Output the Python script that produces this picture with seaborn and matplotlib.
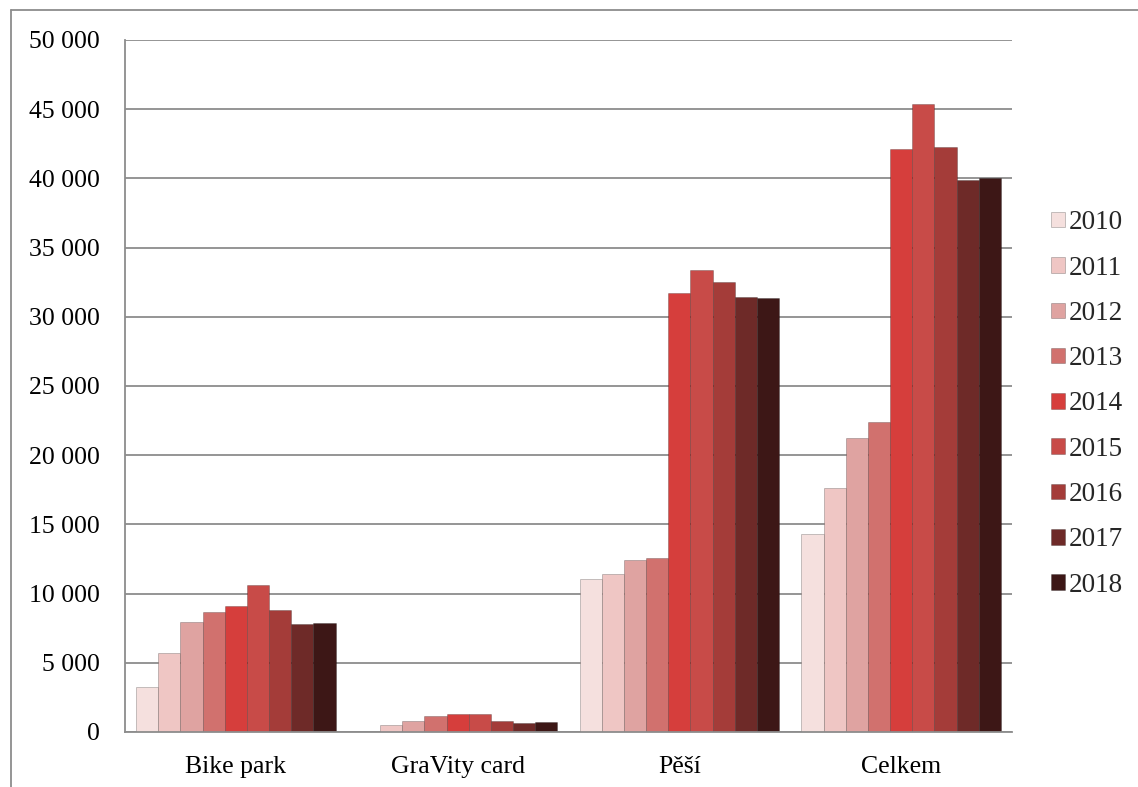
import numpy as np
import pandas as pd
import matplotlib
matplotlib.use("Agg")
import matplotlib.pyplot as plt
import seaborn as sns
from matplotlib.lines import Line2D
from matplotlib.ticker import FuncFormatter

categories = ["Bike park", "GraVity card", "Pěší", "Celkem"]
years = ["2010", "2011", "2012", "2013", "2014", "2015", "2016", "2017", "2018"]
bike_park = [3230, 5730, 7925, 8650, 9130, 10600, 8815, 7800, 7900]
gravity_card = [0, 480, 820, 1130, 1280, 1270, 810, 650, 750]
pesi = [11090, 11450, 12400, 12540, 31730, 33400, 32500, 31420, 31350]
celkem = [14340, 17645, 21260, 22385, 42140, 45340, 42250, 39900, 40045]
colors = ["#f5e0de", "#efc6c4", "#dfa3a1", "#d1716e", "#d63e3c",
          "#c84b48", "#a43c39", "#6e2a28", "#3d1716"]

series = [bike_park, gravity_card, pesi, celkem]
rows = []
for cat, vals in zip(categories, series):
    for yr, v in zip(years, vals):
        rows.append({"kategorie": cat, "rok": yr, "hodnota": v})
df = pd.DataFrame(rows)

sns.set_theme(style="white")
plt.rcParams["font.family"] = ["Liberation Serif", "DejaVu Serif"]

fig = plt.figure(figsize=(11.38, 7.87), dpi=100)
ax = fig.add_axes([125 / 1138, 1 - 732 / 787, (1012 - 125) / 1138, (732 - 40) / 787])

sns.barplot(data=df, x="kategorie", y="hodnota", hue="rok", order=categories,
            hue_order=years, palette=colors, saturation=1, width=0.9, ax=ax,
            edgecolor="#00000038", linewidth=0.7, errorbar=None)

ax.set_xlim(-0.5, 3.5)
ax.set_ylim(0, 50000)
ax.set_yticks(np.arange(0, 50001, 5000))
ax.yaxis.set_major_formatter(FuncFormatter(lambda v, p: f"{int(v):,}".replace(",", " ")))
ax.grid(axis="y", color="#8c8c8c", linewidth=1.3)
ax.set_axisbelow(True)
for s in ["top", "right"]:
    ax.spines[s].set_visible(False)
for s in ["left", "bottom"]:
    ax.spines[s].set_color("#8c8c8c")
    ax.spines[s].set_linewidth(1.3)
ax.tick_params(axis="y", labelsize=18.5, pad=18, length=0, labelcolor="black")
ax.tick_params(axis="x", labelsize=18.5, pad=17, length=0, labelcolor="black")
ax.set_xlabel("")
ax.set_ylabel("")

handles, labels = ax.get_legend_handles_labels()
ax.legend(handles, labels, loc="center left", bbox_to_anchor=(1.032, 0.474),
          frameon=False, fontsize=19.5, handlelength=0.5, handleheight=0.5,
          handletextpad=0.15, labelspacing=0.75, borderaxespad=0)

# outer chart border
fig.add_artist(Line2D([11 / 1138, 11 / 1138], [0, 1 - 10 / 787],
                      transform=fig.transFigure, color="#8c8c8c", linewidth=1.3))
fig.add_artist(Line2D([11 / 1138, 1], [1 - 10 / 787, 1 - 10 / 787],
                      transform=fig.transFigure, color="#8c8c8c", linewidth=1.3))

fig.savefig("out.png", dpi=100)
